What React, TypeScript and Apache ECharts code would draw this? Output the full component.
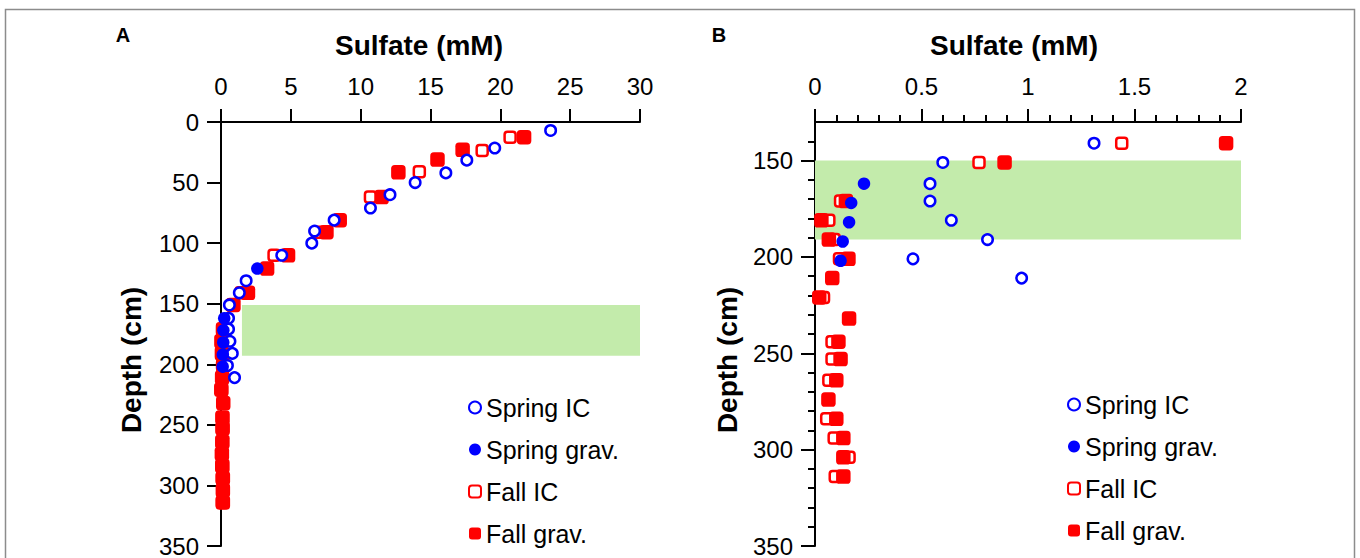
import React, { useEffect, useRef } from "react";
import * as echarts from "echarts";

const FONT = "'Liberation Sans', Arial, Helvetica, sans-serif";

// [sulfate mM, depth cm]
const springIC: number[][] = [
  [23.6, 7], [19.6, 21.5], [17.6, 31.5], [16.1, 42], [13.9, 50], [12.1, 60],
  [10.7, 71], [8.1, 81], [6.7, 90], [6.5, 100], [4.35, 110], [1.8, 131],
  [1.31, 141], [0.6, 151], [0.54, 162], [0.54, 171], [0.64, 181], [0.81, 191],
  [0.46, 201], [0.97, 211],
];
const springGrav: number[][] = [
  [2.6, 121], [0.23, 162], [0.17, 172], [0.16, 182], [0.13, 192], [0.12, 202],
];
const fallIC: number[][] = [
  [20.7, 12.5], [18.7, 23.5], [14.2, 41], [10.7, 62], [6.9, 91], [3.8, 110],
  [1.44, 141], [0.77, 151], [0.12, 171], [0.065, 181], [0.09, 191], [0.115, 201],
  [0.04, 221], [0.08, 244], [0.08, 253], [0.065, 264], [0.055, 284], [0.09, 294],
  [0.16, 304], [0.095, 314],
];
const fallGrav: number[][] = [
  [21.7, 12.5], [17.3, 23], [15.5, 31], [12.7, 41.5], [11.5, 62], [8.5, 81],
  [7.55, 91], [4.8, 110], [3.3, 121], [1.93, 141], [0.89, 151], [0.145, 171],
  [0.03, 181], [0.065, 191], [0.157, 201], [0.081, 211], [0.02, 221], [0.16, 232],
  [0.11, 244], [0.12, 253], [0.1, 264], [0.063, 274], [0.1, 284], [0.133, 294],
  [0.133, 304], [0.133, 314],
];

const legendNames = ["Spring IC", "Spring grav.", "Fall IC", "Fall grav."];
const xTicksA = [0, 5, 10, 15, 20, 25, 30];
const yTicksA = [0, 50, 100, 150, 200, 250, 300, 350];
const xTicksB = [0, 0.5, 1, 1.5, 2];
const yTicksB = [150, 200, 250, 300, 350];
const yMinorB = [140, 160, 170, 180, 190, 210, 220, 230, 240, 260, 270, 280, 290, 310, 320, 330, 340];
const bandA = [[1.5, 151], [30, 193]];
const bandB = [[0, 150], [2, 191]];

const BLUE = "#0000ff";
const RED = "#ff0000";
const GREEN = "#c3ebab";

export default function App() {
  const ref = useRef<HTMLDivElement>(null);
  useEffect(() => {
    if (!ref.current) return;
    const chart = echarts.init(ref.current, null, { renderer: "svg" });

    // panel B shows only the deeper, low-concentration samples
    const inB = (d: number[]) => d[1] >= 135 && d[0] <= 2;

    const axisLine = { show: true, lineStyle: { color: "#000", width: 2 } };
    const tick = (len: number) => ({ show: true, length: len, lineStyle: { color: "#000", width: 2 } });
    const lbl = (margin: number) => ({ fontSize: 24, color: "#000", fontFamily: FONT, margin });

    const makeSeries = (gi: number, yi: number, filt: (d: number[]) => boolean, band: number[][]) => [
      {
        name: "Fall IC",
        type: "scatter",
        xAxisIndex: gi,
        yAxisIndex: yi,
        symbol: "roundRect",
        symbolSize: 11,
        itemStyle: { color: "#fff", borderColor: RED, borderWidth: 2.5, opacity: 1 },
        data: fallIC.filter(filt),
        z: 3,
        markArea: {
          silent: true,
          itemStyle: { color: GREEN, opacity: 1 },
          data: [[{ coord: band[0] }, { coord: band[1] }]],
        },
      },
      {
        name: "Fall grav.",
        type: "scatter",
        xAxisIndex: gi,
        yAxisIndex: yi,
        symbol: "roundRect",
        symbolSize: 14.5,
        itemStyle: { color: RED, opacity: 1 },
        data: fallGrav.filter(filt),
        z: 4,
      },
      {
        name: "Spring IC",
        type: "scatter",
        xAxisIndex: gi,
        yAxisIndex: yi,
        symbol: "circle",
        symbolSize: 10.5,
        itemStyle: { color: "#fff", borderColor: BLUE, borderWidth: 2.5, opacity: 1 },
        data: springIC.filter(filt),
        z: 5,
      },
      {
        name: "Spring grav.",
        type: "scatter",
        xAxisIndex: gi,
        yAxisIndex: yi,
        symbol: "circle",
        symbolSize: 12.5,
        itemStyle: { color: BLUE, opacity: 1 },
        data: springGrav.filter(filt),
        z: 6,
      },
    ];

    const legendBase = {
      orient: "vertical",
      itemGap: 17,
      itemWidth: 12,
      itemHeight: 12,
      selectedMode: false,
      textStyle: { fontSize: 25, color: "#000", fontFamily: FONT },
      data: legendNames,
    };

    const option: any = {
      animation: false,
      backgroundColor: "#fff",
      grid: [
        { left: 221, right: 720, top: 122, bottom: 11 },
        { left: 815, right: 119, top: 122, bottom: 11 },
      ],
      xAxis: [
        {
          gridIndex: 0, type: "value", position: "top", min: 0, max: 30, interval: 5,
          axisLine, axisTick: { ...tick(13), customValues: xTicksA },
          axisLabel: { ...lbl(24), customValues: xTicksA }, splitLine: { show: false },
        },
        {
          gridIndex: 1, type: "value", position: "top", min: 0, max: 2, interval: 0.5,
          axisLine, axisTick: tick(13),
          minorTick: { show: true, splitNumber: 5, length: 7, lineStyle: { color: "#000", width: 2 } },
          axisLabel: { ...lbl(24), customValues: xTicksB }, splitLine: { show: false },
        },
      ],
      yAxis: [
        {
          gridIndex: 0, type: "value", inverse: true, min: 0, max: 350, interval: 50,
          axisLine, axisTick: { ...tick(14), customValues: yTicksA },
          axisLabel: { ...lbl(22), customValues: yTicksA }, splitLine: { show: false },
        },
        {
          gridIndex: 1, type: "value", inverse: true, min: 130, max: 350,
          axisLine, axisTick: { ...tick(14), customValues: yTicksB },
          axisLabel: { ...lbl(22), customValues: yTicksB }, splitLine: { show: false },
        },
        {
          gridIndex: 1, type: "value", inverse: true, min: 130, max: 350, position: "left", offset: 0,
          axisLine: { show: false }, axisTick: { ...tick(7), customValues: yMinorB },
          axisLabel: { show: false }, splitLine: { show: false },
        },
      ],
      legend: [
        { ...legendBase, left: 463, top: 390 },
        { ...legendBase, left: 1062, top: 387 },
      ],
      series: [
        ...makeSeries(0, 0, () => true, bandA),
        ...makeSeries(1, 1, inB, bandB),
      ],
      graphic: [
        {
          type: "rect", silent: true, z: -1,
          shape: { x: 5.5, y: 9.5, width: 1349, height: 600 },
          style: { fill: "none", stroke: "#8c8c8c", lineWidth: 1.5 },
        },
        { type: "text", x: 123, y: 35, style: { text: "A", font: `bold 20px ${FONT}`, fill: "#000", align: "center", verticalAlign: "middle" } },
        { type: "text", x: 719, y: 35, style: { text: "B", font: `bold 20px ${FONT}`, fill: "#000", align: "center", verticalAlign: "middle" } },
        { type: "text", x: 419, y: 45, style: { text: "Sulfate (mM)", font: `bold 28px ${FONT}`, fill: "#000", align: "center", verticalAlign: "middle" } },
        { type: "text", x: 1014, y: 45, style: { text: "Sulfate (mM)", font: `bold 28px ${FONT}`, fill: "#000", align: "center", verticalAlign: "middle" } },
        { type: "text", x: 131, y: 360, rotation: Math.PI / 2, style: { text: "Depth (cm)", font: `bold 28px ${FONT}`, fill: "#000", align: "center", verticalAlign: "middle" } },
        { type: "text", x: 727, y: 360, rotation: Math.PI / 2, style: { text: "Depth (cm)", font: `bold 28px ${FONT}`, fill: "#000", align: "center", verticalAlign: "middle" } },
      ],
    };
    chart.setOption(option);
    return () => chart.dispose();
  }, []);
  return <div ref={ref} style={{ position: "fixed", left: 0, top: 0, width: 1360, height: 558 }} />;
}
